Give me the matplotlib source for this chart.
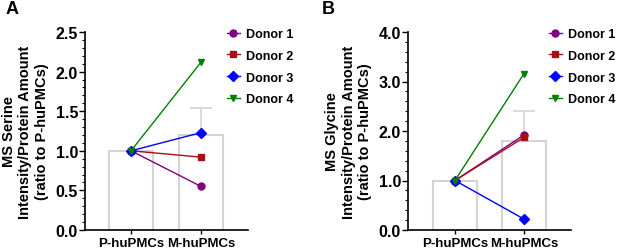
import numpy as np
import matplotlib
matplotlib.use('Agg')
import matplotlib.pyplot as plt
from matplotlib.ticker import MultipleLocator

plt.rcParams['font.family'] = ['Liberation Sans', 'DejaVu Sans']
plt.rcParams['font.weight'] = 'bold'

# ---------------- data ----------------
groups = ['P-huPMCs', 'M-huPMCs']
donors = ['Donor 1', 'Donor 2', 'Donor 3', 'Donor 4']

serine_donors = [[1.0, 0.55], [1.0, 0.92], [1.0, 1.23], [1.0, 2.12]]
serine_mean = [1.0, 1.20]
serine_err = [0.0, 0.34]

glycine_donors = [[1.0, 1.92], [1.0, 1.87], [1.0, 0.22], [1.0, 3.16]]
glycine_mean = [1.0, 1.79]
glycine_err = [0.0, 0.61]

colors = ['#800080', '#a50f15', '#0000ff', '#008000']
markers = ['o', 's', 'D', 'v']

fig = plt.figure(figsize=(6.17, 2.51), dpi=100)


def panel(rect, mean, err, vals, ymax, major, minor, ylabel, letter, lpos, legpos, xlim):
    ax = fig.add_axes(rect)
    x = np.arange(len(groups))
    ax.bar(x, mean, width=0.63, color='white', edgecolor='#d4d4d4', linewidth=1.5, zorder=1)
    ax.errorbar(x[1:], mean[1:], yerr=[[0], err[1:]], fmt='none', ecolor='#d4d4d4',
                elinewidth=1.2, capsize=8, capthick=1.2, zorder=1)
    for v, c, m, lab in zip(vals, colors, markers, donors):
        ax.plot(x, v, color=c, marker=m, markersize=5, linewidth=1, label=lab, zorder=3)
    ax.set_xlim(*xlim)
    ax.set_ylim(0, ymax)
    ax.yaxis.set_major_locator(MultipleLocator(major))
    ax.yaxis.set_minor_locator(MultipleLocator(minor))
    ax.set_yticklabels(['{:.1f}'.format(t) for t in ax.get_yticks()])
    ax.set_xticks(x)
    ax.set_xticklabels(groups, fontsize=9.5, fontweight='bold')
    ax.tick_params(axis='y', labelsize=11.5, width=1, length=4, pad=1)
    ax.tick_params(axis='y', which='minor', length=2, width=0.8)
    ax.tick_params(axis='x', width=1, length=3, pad=2)
    for s in ['top', 'right']:
        ax.spines[s].set_visible(False)
    for s in ['left', 'bottom']:
        ax.spines[s].set_linewidth(1.2)
    ax.set_ylabel(ylabel, fontsize=10.5, fontweight='bold', linespacing=1.2, labelpad=5)
    fig.text(lpos[0], lpos[1], letter, fontsize=13, fontweight='bold', ha='center', va='center')
    fig.legend(*ax.get_legend_handles_labels(), loc='upper left', bbox_to_anchor=legpos,
               frameon=False, handlelength=1.0, handletextpad=0.5,
               labelspacing=0.78, borderpad=0, borderaxespad=0,
               prop={'weight': 'bold', 'size': 9})
    return ax


panel([85 / 617, 1 - 231 / 251, 163 / 617, 198 / 251], serine_mean, serine_err, serine_donors,
      2.5, 0.5, 0.1, 'MS Serine\nIntensity/Protein Amount\n(ratio to P-huPMCs)', 'A',
      (12 / 617, 1 - 9 / 251), (227 / 617, 1 - 29 / 251), (-0.657, 1.67))

panel([408 / 617, 1 - 231 / 251, 163 / 617, 198 / 251], glycine_mean, glycine_err, glycine_donors,
      4.0, 1.0, 0.2, 'MS Glycine\nIntensity/Protein Amount\n(ratio to P-huPMCs)', 'B',
      (328 / 617, 1 - 9 / 251), (549 / 617, 1 - 29 / 251), (-0.68, 1.68))

fig.savefig('out.png', dpi=100)
